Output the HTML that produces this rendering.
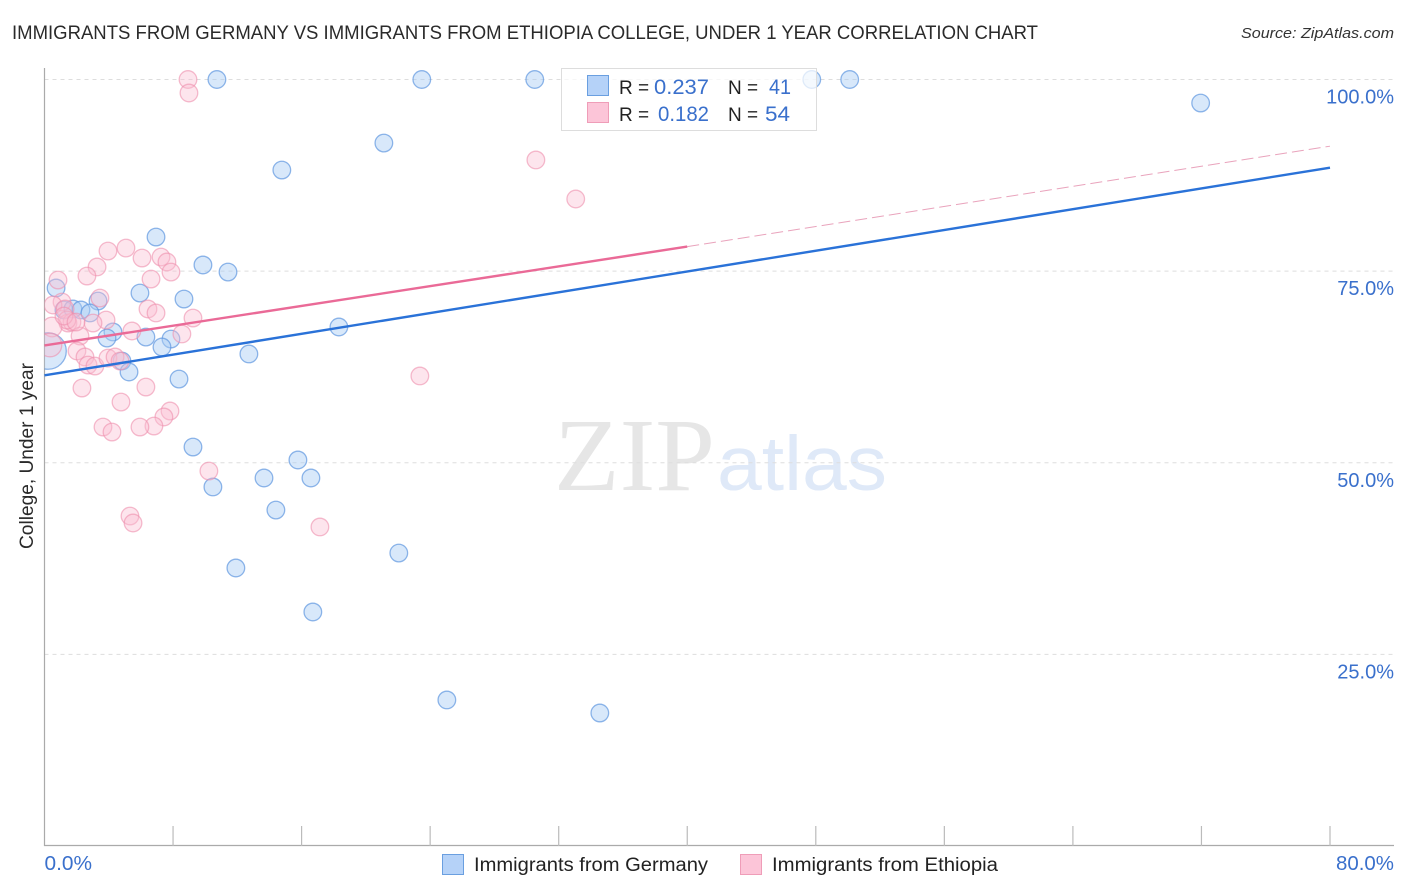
<!DOCTYPE html>
<html><head><meta charset="utf-8"><title>Correlation Chart</title>
<style>
html,body{margin:0;padding:0;background:#fff;width:1406px;height:892px;overflow:hidden}
svg{display:block}
text{font-family:"Liberation Sans",sans-serif}
</style></head>
<body>
<svg id="chart" width="1406" height="892" viewBox="0 0 1406 892" xmlns="http://www.w3.org/2000/svg">
<defs><clipPath id="plot-clip"><rect x="44.5" y="60" width="1350" height="786"/></clipPath></defs>
<text x="12" y="39" font-size="19" fill="#2a2a2a" textLength="1026" lengthAdjust="spacingAndGlyphs">IMMIGRANTS FROM GERMANY VS IMMIGRANTS FROM ETHIOPIA COLLEGE, UNDER 1 YEAR CORRELATION CHART</text>
<text x="1394" y="38" font-size="15" font-style="italic" fill="#333" text-anchor="end" textLength="153" lengthAdjust="spacingAndGlyphs">Source: ZipAtlas.com</text>
<text x="554" y="490" font-size="104" fill="#e6e6e6" style="font-family:'Liberation Serif',serif" textLength="161" lengthAdjust="spacingAndGlyphs">ZIP</text>
<text x="717" y="490" font-size="77" fill="#dfe9f8" textLength="170" lengthAdjust="spacingAndGlyphs">atlas</text>
<g id="grid"></g>
<g id="axes"></g>
<g id="points-germany" clip-path="url(#plot-clip)"></g>
<g id="points-ethiopia" clip-path="url(#plot-clip)"></g>
<g id="trends"></g>
<g id="labels"></g>
<text transform="translate(33,456) rotate(-90)" font-size="19" fill="#2a2a2a" text-anchor="middle" textLength="186" lengthAdjust="spacingAndGlyphs">College, Under 1 year</text>
<g>
<rect x="561.5" y="68.5" width="255" height="62" fill="#fff" fill-opacity="0.72" stroke="#ddd"/>
<rect x="587.5" y="75.5" width="21" height="20" fill="#b5d2f8" stroke="#6a9fe0"/>
<rect x="587.5" y="102.5" width="21" height="20" fill="#fcc5d8" stroke="#ef9db8"/>
<text x="619" y="94" font-size="19" fill="#222">R =</text>
<text x="654" y="94" font-size="21" fill="#3a70cc" textLength="55" lengthAdjust="spacingAndGlyphs">0.237</text>
<text x="728" y="94" font-size="19" fill="#222">N =</text>
<text x="769" y="94" font-size="21" fill="#3a70cc" textLength="22" lengthAdjust="spacingAndGlyphs">41</text>
<text x="619" y="121" font-size="19" fill="#222">R =</text>
<text x="658" y="121" font-size="21" fill="#3a70cc" textLength="51" lengthAdjust="spacingAndGlyphs">0.182</text>
<text x="728" y="121" font-size="19" fill="#222">N =</text>
<text x="765" y="121" font-size="21" fill="#3a70cc" textLength="25" lengthAdjust="spacingAndGlyphs">54</text>
</g>
<g>
<rect x="442.5" y="854.5" width="21" height="20" fill="#b5d2f8" stroke="#6a9fe0"/>
<text x="474" y="871" font-size="19" fill="#222" textLength="234" lengthAdjust="spacingAndGlyphs">Immigrants from Germany</text>
<rect x="740.5" y="854.5" width="21" height="20" fill="#fcc5d8" stroke="#ef9db8"/>
<text x="772" y="871" font-size="19" fill="#222" textLength="226" lengthAdjust="spacingAndGlyphs">Immigrants from Ethiopia</text>
</g>
</svg>
<script>
const germanyX = [10.73,23.48,30.51,47.75,50.11,71.95,21.12,14.77,6.94,9.86,11.42,0.72,5.94,8.68,3.33,1.21,1.77,2.27,2.83,4.26,3.89,6.31,7.87,7.31,18.32,12.72,4.82,5.26,8.37,9.24,15.77,13.66,16.58,10.48,14.40,22.05,11.91,16.70,25.04,34.56,0.22];
const germanyY = [100,100,100,100,100,96.93,91.71,88.19,79.45,75.80,74.88,72.80,72.14,71.36,71.10,69.93,70.06,69.93,69.54,67.06,66.27,66.40,66.14,65.10,67.71,64.19,63.27,61.84,60.92,52.05,50.36,48.01,48.01,46.84,43.83,38.22,36.27,30.53,19.05,17.35,64.58];
const germanyWeight = [1,1,1,1,1,1,1,1,1,1,1,1,1,1,1,1,1,1,1,1,1,1,1,1,1,1,1,1,1,1,1,1,1,1,1,1,1,1,1,1,4.3];
const ethiopiaX = [8.93,8.99,30.58,33.06,23.36,10.23,5.32,5.51,17.14,3.95,5.07,6.07,7.25,7.62,7.87,3.27,2.64,0.84,6.63,6.44,6.94,9.24,8.55,5.44,3.83,3.02,3.45,1.09,0.53,1.28,1.46,1.71,1.40,0.47,2.21,0.34,2.02,2.52,2.71,3.14,3.95,4.39,4.70,2.33,6.31,4.76,7.81,7.43,6.81,5.94,3.64,4.20,1.21,1.96];
const ethiopiaY = [100,98.24,89.50,84.41,61.32,48.92,43.05,42.14,41.62,77.62,78.01,76.71,76.84,76.19,74.88,75.54,74.36,73.84,73.97,70.06,69.54,68.88,66.80,67.19,68.62,68.23,71.49,70.97,70.58,70.06,68.23,68.36,68.62,67.71,66.53,65.36,64.58,63.80,62.75,62.62,63.66,63.80,63.27,59.75,59.88,57.92,56.75,55.97,54.79,54.66,54.66,54.01,69.14,68.36];
const ethiopiaWeight = [1,1,1,1,1,1,1,1,1,1,1,1,1,1,1,1,1,1,1,1,1,1,1,1,1,1,1,1,1,1,1,1,1,1.25,1,1.8,1,1,1,1,1,1,1,1,1,1,1,1,1,1,1,1,1,1];
const germanyTrend = [61.4,88.5];
const ethiopiaTrend = [65.3,78.2,91.3];
const yTicks = [25,50,75,100];
const yTickLabels = ["25.0%","50.0%","75.0%","100.0%"];
const xTicks = [8,16,24,32,40,48,56,64,72,80];
const xEndLabels = ["0.0%","80.0%"];

const NS = 'http://www.w3.org/2000/svg';
const sx = v => 44.5 + v * (1330 - 44.5) / 80;
const sy = v => 846 - v * 7.665;
function mk(parent, tag, attrs) {
  const el = document.createElementNS(NS, tag);
  for (const k in attrs) el.setAttribute(k, attrs[k]);
  parent.appendChild(el);
  return el;
}
const grid = document.getElementById('grid');
const axes = document.getElementById('axes');
const labels = document.getElementById('labels');
yTicks.forEach((t, i) => {
  const line = mk(grid, 'line', {x1: 44.5, x2: 1394, y1: sy(t), y2: sy(t), stroke: '#ddd', 'stroke-dasharray': '4 4'});
  
  
  const lab = mk(labels, 'text', {x: 1394, y: sy(t) + 24, 'font-size': 20, fill: '#3a70cc', 'text-anchor': 'end'});
  lab.textContent = yTickLabels[i];
  
  
});
const yAxis = mk(axes, 'line', {x1: 44.5, x2: 44.5, y1: 68, y2: 846, stroke: '#aaa', 'stroke-width': 1.2});


const xAxis = mk(axes, 'line', {x1: 44, x2: 1394, y1: 845.5, y2: 845.5, stroke: '#aaa', 'stroke-width': 1.2});


xTicks.forEach(t => {
  const tick = mk(axes, 'line', {x1: sx(t), x2: sx(t), y1: 826, y2: 846, stroke: '#bbb', 'stroke-width': 1.2});
  
  
});
const xl0 = mk(labels, 'text', {x: 44.5, y: 870, 'font-size': 20, fill: '#3a70cc', textLength: 47.5, lengthAdjust: 'spacingAndGlyphs'});
xl0.textContent = xEndLabels[0];


const xl1 = mk(labels, 'text', {x: 1394, y: 870, 'font-size': 20, fill: '#3a70cc', 'text-anchor': 'end', textLength: 58, lengthAdjust: 'spacingAndGlyphs'});
xl1.textContent = xEndLabels[1];



const gGroup = document.getElementById('points-germany');
germanyX.forEach((x, i) => {
  const c = mk(gGroup, 'circle', {cx: sx(x), cy: sy(germanyY[i]), r: 8.8 * Math.sqrt(germanyWeight[i]), fill: '#a9cbf5', 'fill-opacity': 0.45, stroke: '#5f97e0', 'stroke-opacity': 0.7, 'stroke-width': 1.3});
  
  
});
const eGroup = document.getElementById('points-ethiopia');
ethiopiaX.forEach((x, i) => {
  const c = mk(eGroup, 'circle', {cx: sx(x), cy: sy(ethiopiaY[i]), r: 8.8 * Math.sqrt(ethiopiaWeight[i]), fill: '#fbbdd2', 'fill-opacity': 0.4, stroke: '#ee8fae', 'stroke-opacity': 0.6, 'stroke-width': 1.3});
  
  
});
const trends = document.getElementById('trends');
const tg = mk(trends, 'line', {x1: sx(0), x2: sx(80), y1: sy(germanyTrend[0]), y2: sy(germanyTrend[1]), stroke: '#2a72d8', 'stroke-width': 2.4});


const te = mk(trends, 'line', {x1: sx(0), x2: sx(40), y1: sy(ethiopiaTrend[0]), y2: sy(ethiopiaTrend[1]), stroke: '#ea6a97', 'stroke-width': 2.4});


const td = mk(trends, 'line', {x1: sx(40), x2: sx(80), y1: sy(ethiopiaTrend[1]), y2: sy(ethiopiaTrend[2]), stroke: '#e48cab', 'stroke-width': 1, 'stroke-opacity': 0.8, 'stroke-dasharray': '12 5'});


</script>
</body></html>
